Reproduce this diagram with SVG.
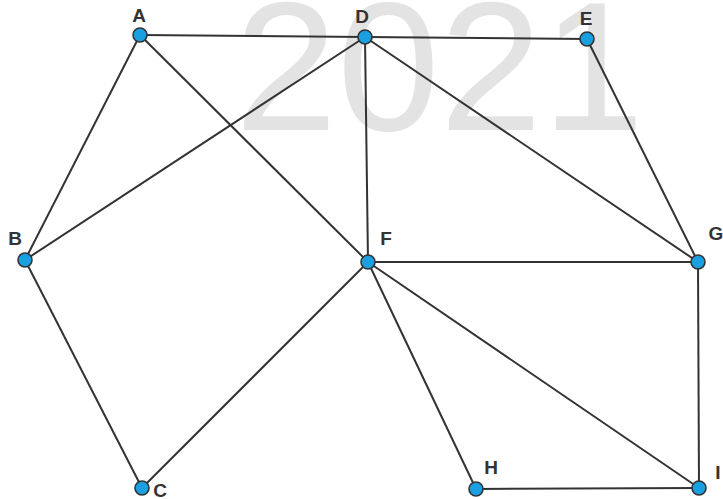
<svg xmlns="http://www.w3.org/2000/svg" width="723" height="499" viewBox="0 0 723 499">
<style>
.wm{font-family:"Liberation Sans",Arial,sans-serif;font-size:184px;fill:#e3e3e3}
.e{stroke:#333;stroke-width:2;fill:none}
.n{fill:#1a9fe0;stroke:#333;stroke-width:1.6}
.l{font-family:"Liberation Sans",Arial,sans-serif;font-size:19px;font-weight:bold;fill:#333}
</style>
<rect width="723" height="499" fill="#fff"/>
<text class="wm" x="235" y="130">2021</text>
<g id="edges" class="e">
<line x1="140" y1="35" x2="365" y2="37"/>
<line x1="365" y1="37" x2="587" y2="39"/>
<line x1="140" y1="35" x2="25" y2="260"/>
<line x1="140" y1="35" x2="368" y2="262"/>
<line x1="25" y1="260" x2="365" y2="37"/>
<line x1="25" y1="260" x2="142" y2="488"/>
<line x1="365" y1="37" x2="368" y2="262"/>
<line x1="365" y1="37" x2="698" y2="262"/>
<line x1="587" y1="39" x2="698" y2="262"/>
<line x1="368" y1="262" x2="698" y2="262"/>
<line x1="368" y1="262" x2="142" y2="488"/>
<line x1="368" y1="262" x2="476" y2="489"/>
<line x1="368" y1="262" x2="699" y2="488"/>
<line x1="698" y1="262" x2="699" y2="488"/>
<line x1="476" y1="489" x2="699" y2="488"/>
</g>
<g id="A"><circle class="n" cx="140" cy="35" r="7"/><text class="l" x="139" y="22" text-anchor="middle">A</text></g>
<g id="D"><circle class="n" cx="365" cy="37" r="7"/><text class="l" x="362" y="23" text-anchor="middle">D</text></g>
<g id="E"><circle class="n" cx="587" cy="39" r="7"/><text class="l" x="586" y="25" text-anchor="middle">E</text></g>
<g id="B"><circle class="n" cx="25" cy="260" r="7"/><text class="l" x="15" y="245" text-anchor="middle">B</text></g>
<g id="F"><circle class="n" cx="368" cy="262" r="7"/><text class="l" x="386" y="245" text-anchor="middle">F</text></g>
<g id="G"><circle class="n" cx="698" cy="262" r="7"/><text class="l" x="716" y="240" text-anchor="middle">G</text></g>
<g id="C"><circle class="n" cx="142" cy="488" r="7"/><text class="l" x="160" y="497" text-anchor="middle">C</text></g>
<g id="H"><circle class="n" cx="476" cy="489" r="7"/><text class="l" x="491" y="474" text-anchor="middle">H</text></g>
<g id="I"><circle class="n" cx="699" cy="488" r="7"/><text class="l" x="718" y="479" text-anchor="middle">I</text></g>
</svg>
